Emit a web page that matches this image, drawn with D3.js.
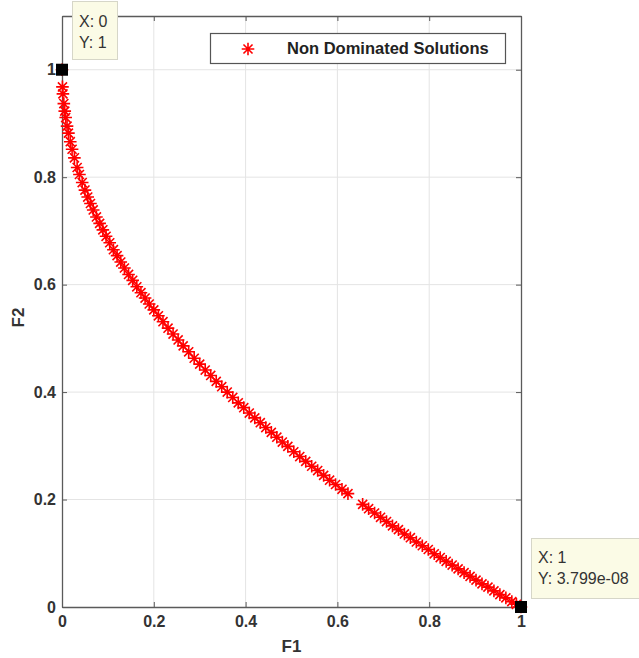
<!DOCTYPE html>
<html>
<head>
<meta charset="utf-8">
<script src="https://cdn.jsdelivr.net/npm/d3@7"></script>
<style>
  html, body { margin: 0; padding: 0; background: #fff; }
  svg { display: block; font-family: "Liberation Sans", Arial, Helvetica, sans-serif; }
</style>
</head>
<body>
<svg id="chart" width="639" height="658"></svg>
<script>
// Pareto front of non-dominated solutions (objective F1 vs objective F2)
const f1 = [
  0.000, 0.001, 0.002, 0.004, 0.006, 0.008, 0.011, 0.014, 0.018, 0.022,
  0.027, 0.033, 0.038, 0.044, 0.050, 0.056, 0.062, 0.068, 0.075, 0.082,
  0.089, 0.096, 0.104, 0.112, 0.120, 0.128, 0.136, 0.145, 0.154, 0.163,
  0.172, 0.181, 0.190, 0.200, 0.210, 0.220, 0.231, 0.242, 0.253, 0.264,
  0.276, 0.288, 0.300, 0.312, 0.324, 0.336, 0.348, 0.360, 0.372, 0.384,
  0.396, 0.408, 0.420, 0.432, 0.444, 0.456, 0.468, 0.480, 0.492, 0.505,
  0.518, 0.531, 0.544, 0.557, 0.570, 0.583, 0.596, 0.610, 0.623, 0.655,
  0.668, 0.681, 0.694, 0.707, 0.720, 0.733, 0.746, 0.759, 0.772, 0.785,
  0.798, 0.811, 0.824, 0.837, 0.850, 0.863, 0.876, 0.889, 0.902, 0.915,
  0.928, 0.941, 0.954, 0.967, 0.980, 0.990, 1.000
];
const f2 = [
  1.000, 0.968, 0.955, 0.937, 0.923, 0.911, 0.895, 0.882, 0.866, 0.852,
  0.836, 0.818, 0.805, 0.790, 0.776, 0.763, 0.751, 0.739, 0.726, 0.714,
  0.702, 0.690, 0.678, 0.665, 0.654, 0.642, 0.631, 0.619, 0.608, 0.596,
  0.585, 0.575, 0.564, 0.553, 0.542, 0.531, 0.519, 0.508, 0.497, 0.486,
  0.475, 0.463, 0.452, 0.441, 0.431, 0.420, 0.410, 0.400, 0.390, 0.380,
  0.371, 0.361, 0.352, 0.343, 0.334, 0.325, 0.316, 0.307, 0.299, 0.289,
  0.280, 0.271, 0.262, 0.254, 0.245, 0.236, 0.228, 0.219, 0.211, 0.191,
  0.183, 0.175, 0.167, 0.159, 0.151, 0.144, 0.136, 0.129, 0.121, 0.114,
  0.107, 0.099, 0.092, 0.085, 0.078, 0.071, 0.064, 0.057, 0.050, 0.043,
  0.037, 0.030, 0.023, 0.017, 0.010, 0.005, 3.799e-08
];

// Highlighted extreme points with their data tips
const tipX = [0, 1];
const tipY = [1, 3.799e-08];
const tipLines = [["X: 0", "Y: 1"], ["X: 1", "Y: 3.799e-08"]];

const xTicks = [0, 0.2, 0.4, 0.6, 0.8, 1];
const yTicks = [0, 0.2, 0.4, 0.6, 0.8, 1];
const xLabel = "F1";
const yLabel = "F2";
const seriesName = "Non Dominated Solutions";

const svg = d3.select("#chart");
const plotLeft = 62, plotRight = 521, plotTop = 16, plotBottom = 607;

const x = d3.scaleLinear().domain([0, 1]).range([plotLeft, plotRight]);
const y = d3.scaleLinear().domain([0, 1.1]).range([plotBottom, plotTop]);

const axisColor = "#5a5a5a";
const textColor = "#333";

// grid
const grid = svg.append("g");
grid.selectAll("line.gx").data(xTicks.slice(1, -1)).join("line")
  .attr("x1", d => x(d)).attr("x2", d => x(d))
  .attr("y1", plotTop).attr("y2", plotBottom)
  .attr("stroke", "#e4e4e4").attr("stroke-width", 1);
grid.selectAll("line.gy").data(yTicks.slice(1)).join("line")
  .attr("y1", d => y(d)).attr("y2", d => y(d))
  .attr("x1", plotLeft).attr("x2", plotRight)
  .attr("stroke", "#e4e4e4").attr("stroke-width", 1);

// axes with inward ticks on all four sides
const tickLen = 5;
const axStyle = g => {
  g.select(".domain").attr("stroke", axisColor).attr("stroke-width", 1.3);
  g.selectAll(".tick line").attr("stroke", axisColor).attr("stroke-width", 1);
  g.selectAll(".tick text").attr("fill", textColor)
    .style("font-size", "16px").style("font-weight", "bold");
};
svg.append("g").attr("transform", `translate(0,${plotBottom})`)
  .call(d3.axisBottom(x).tickValues(xTicks).tickFormat(d3.format("~g"))
    .tickSizeInner(-tickLen).tickSizeOuter(0).tickPadding(9))
  .call(axStyle);
svg.append("g").attr("transform", `translate(0,${plotTop})`)
  .call(d3.axisTop(x).tickValues(xTicks).tickFormat("")
    .tickSizeInner(-tickLen).tickSizeOuter(0))
  .call(axStyle);
svg.append("g").attr("transform", `translate(${plotLeft},0)`)
  .call(d3.axisLeft(y).tickValues(yTicks).tickFormat(d3.format("~g"))
    .tickSizeInner(-tickLen).tickSizeOuter(0).tickPadding(6))
  .call(axStyle);
svg.append("g").attr("transform", `translate(${plotRight},0)`)
  .call(d3.axisRight(y).tickValues(yTicks).tickFormat("")
    .tickSizeInner(-tickLen).tickSizeOuter(0))
  .call(axStyle);

// axis labels
svg.append("text").attr("x", (plotLeft + plotRight) / 2).attr("y", 652)
  .attr("text-anchor", "middle").attr("fill", textColor)
  .style("font-size", "17px").style("font-weight", "bold").text(xLabel);
svg.append("text").attr("transform", `translate(24,${(plotTop + plotBottom) / 2 + 6}) rotate(-90)`)
  .attr("text-anchor", "middle").attr("fill", textColor)
  .style("font-size", "17px").style("font-weight", "bold").text(yLabel);

// asterisk marker path
const r = 6.3, rd = r * 0.72;
const star = `M${-r},0L${r},0M0,${-r}L0,${r}M${-rd},${-rd}L${rd},${rd}M${-rd},${rd}L${rd},${-rd}`;

const pts = f1.map((v, i) => [v, f2[i]]);
svg.append("g").selectAll("path").data(pts).join("path")
  .attr("transform", d => `translate(${x(d[0])},${y(d[1])})`)
  .attr("d", star).attr("fill", "none")
  .attr("stroke", "#ff0000").attr("stroke-width", 1.6);

// legend
const lg = svg.append("g");
lg.append("rect").attr("x", 210.5).attr("y", 33.5).attr("width", 295).attr("height", 30)
  .attr("fill", "#fff").attr("stroke", "#555").attr("stroke-width", 1.2);
lg.append("path").attr("transform", "translate(248,49)").attr("d", star)
  .attr("fill", "none").attr("stroke", "#ff0000").attr("stroke-width", 1.6);
lg.append("text").attr("x", 287).attr("y", 54).attr("fill", "#222")
  .style("font-size", "16.5px").style("font-weight", "bold").text(seriesName);

// highlighted points
svg.append("g").selectAll("rect").data(tipX).join("rect")
  .attr("x", (d, i) => x(d) - 6).attr("y", (d, i) => y(tipY[i]) - 6)
  .attr("width", 12).attr("height", 12).attr("fill", "#000");

// data tip boxes
const tipBoxes = [
  { bx: 72, by: 1, bw: 45, bh: 58, tx: 79, ty: 27 },
  { bx: 531, by: 538, bw: 115, bh: 60, tx: 538, ty: 563 }
];
tipBoxes.forEach((b, i) => {
  const g = svg.append("g");
  g.append("rect").attr("x", b.bx + 0.5).attr("y", b.by + 0.5)
    .attr("width", b.bw).attr("height", b.bh)
    .attr("fill", "#fbfbe6").attr("stroke", "#d6d6c8").attr("stroke-width", 1);
  tipLines[i].forEach((t, j) => {
    g.append("text").attr("x", b.tx).attr("y", b.ty + j * 20.5)
      .attr("fill", "#333").style("font-size", "16px").text(t);
  });
});
</script>
</body>
</html>
